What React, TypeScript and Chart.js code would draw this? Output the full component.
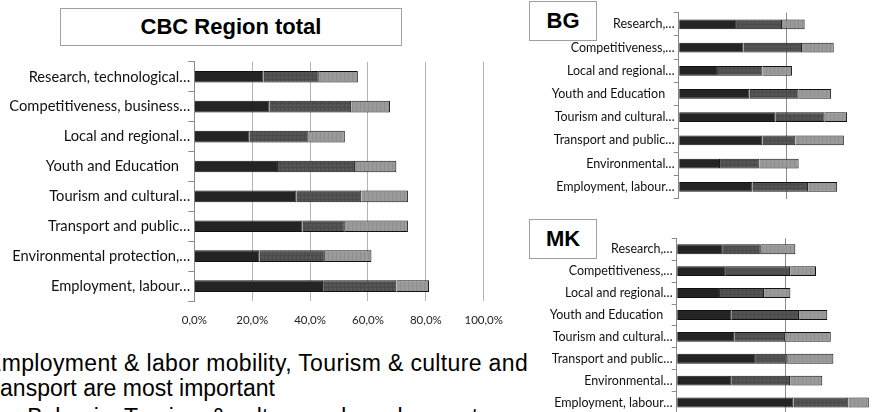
import React, { useEffect, useRef } from "react";
import { Chart, registerables } from "chart.js";

Chart.register(...registerables);

const totalCategories = [
  "Research, technological…",
  "Competitiveness, business…",
  "Local and regional…",
  "Youth and Education   ",
  "Tourism and cultural…",
  "Transport and public…",
  "Environmental protection,…",
  "Employment, labour…",
];
const smallCategories = [
  "Research,…",
  "Competitiveness,…",
  "Local and regional…",
  "Youth and Education   ",
  "Tourism and cultural…",
  "Transport and public…",
  "Environmental…",
  "Employment, labour…",
];

const totalHigh = [23.9, 26.0, 19.1, 28.9, 35.3, 37.4, 22.5, 44.5];
const totalMid = [19.1, 28.2, 20.4, 26.6, 22.4, 14.6, 22.6, 25.3];
const totalLow = [13.5, 13.4, 12.5, 14.3, 16.1, 21.8, 16.1, 11.3];

const bgHigh = [27.0, 30.1, 18.2, 32.9, 45.0, 38.9, 19.2, 34.3];
const bgMid = [21.0, 27.2, 20.7, 22.8, 22.8, 15.3, 18.3, 25.8];
const bgLow = [10.5, 14.7, 13.7, 15.1, 10.4, 22.5, 18.2, 13.5];

const mkHigh = [21.2, 22.6, 19.9, 25.3, 26.5, 36.4, 25.3, 53.7];
const mkMid = [17.5, 29.6, 20.3, 31.0, 23.4, 14.7, 26.9, 25.3];
const mkLow = [15.9, 11.9, 12.1, 13.0, 21.0, 21.0, 14.8, 9.4];

const totalTicks = [0, 20, 40, 60, 80, 100];
const smallTicks = [0, 50, 100];

function makePattern(base: string, dots: string, kind: "grid" | "vstripe") {
  const c = document.createElement("canvas");
  c.width = 4;
  c.height = 4;
  const g = c.getContext("2d")!;
  g.fillStyle = base;
  g.fillRect(0, 0, 4, 4);
  g.fillStyle = dots;
  if (kind === "grid") {
    g.fillRect(0, 0, 1, 4);
    g.fillRect(0, 0, 4, 1);
  } else {
    g.fillRect(0, 0, 1, 4);
  }
  return g.createPattern(c, "repeat") as CanvasPattern;
}

type Opts = {
  labels: string[];
  series: number[][];
  yWidth: number;
  xHeight: number;
  padTop: number;
  barPct: number;
  labelFont: number;
  tickLen: number;
  tickPad: number;
  showX: boolean;
  gridColor: string;
};

function build(canvas: HTMLCanvasElement, o: Opts) {
  const colors = [
    "#242424",
    makePattern("#555555", "#4a4a4a", "grid"),
    makePattern("#9a9a9a", "#8e8e8e", "vstripe"),
  ];
  return new Chart(canvas, {
    type: "bar",
    data: {
      labels: o.labels,
      datasets: o.series.map((d, i) => ({
        data: d,
        backgroundColor: colors[i] as any,
        borderColor: "#111111",
        borderWidth: 1,
        barPercentage: o.barPct,
        categoryPercentage: 1,
      })),
    },
    options: {
      indexAxis: "y",
      animation: false,
      responsive: false,
      maintainAspectRatio: false,
      layout: { padding: { top: o.padTop, left: 0, right: 0, bottom: 0 } },
      plugins: { legend: { display: false }, tooltip: { enabled: false }, title: { display: false } },
      scales: {
        x: {
          stacked: true,
          min: 0,
          max: 100,
          afterBuildTicks: (s: any) => {
            s.ticks = (o.showX ? totalTicks : smallTicks).map((v) => ({ value: v }));
          },
          ticks: {
            display: o.showX,
            padding: 12,
            color: "#222",
            font: { family: "Lato", size: 11.5 },
            callback: (v: any) => Number(v).toFixed(1).replace(".", ",") + "%",
          },
          grid: { color: o.gridColor, drawTicks: false, lineWidth: 1 },
          border: { display: false },
          afterFit: (s: any) => {
            s.height = o.xHeight;
          },
        },
        y: {
          stacked: true,
          grid: { offset: true, drawOnChartArea: false, tickLength: o.tickLen, color: "#8a8a8a" },
          border: { color: "#8a8a8a" },
          ticks: {
            color: "#111",
            padding: o.tickPad,
            font: { family: "Lato", size: o.labelFont },
          },
          afterFit: (s: any) => {
            s.width = o.yWidth;
          },
        },
      },
    },
  });
}

export default function App() {
  const mainRef = useRef<HTMLCanvasElement>(null);
  const bgRef = useRef<HTMLCanvasElement>(null);
  const mkRef = useRef<HTMLCanvasElement>(null);

  useEffect(() => {
    const charts: Chart[] = [];
    charts.push(
      build(mainRef.current!, {
        labels: totalCategories,
        series: [totalHigh, totalMid, totalLow],
        yWidth: 194.3,
        xHeight: 34,
        padTop: 6,
        barPct: 0.39,
        labelFont: 14.7,
        tickLen: 6,
        tickPad: -2,
        showX: true,
        gridColor: "#b4b4b4",
      })
    );
    charts.push(
      build(bgRef.current!, {
        labels: smallCategories,
        series: [bgHigh, bgMid, bgLow],
        yWidth: 148.7,
        xHeight: 3.3,
        padTop: 12.7,
        barPct: 0.42,
        labelFont: 12.5,
        tickLen: 5,
        tickPad: -1,
        showX: false,
        gridColor: "#8a8a8a",
      })
    );
    charts.push(
      build(mkRef.current!, {
        labels: smallCategories,
        series: [mkHigh, mkMid, mkLow],
        yWidth: 146.7,
        xHeight: 4.1,
        padTop: 8.3,
        barPct: 0.45,
        labelFont: 12.5,
        tickLen: 5,
        tickPad: -1,
        showX: false,
        gridColor: "#8a8a8a",
      })
    );
    return () => charts.forEach((c) => c.destroy());
  }, []);

  const box: React.CSSProperties = {
    position: "absolute",
    border: "1px solid #a0a0a0",
    boxSizing: "border-box",
    background: "#fff",
    display: "flex",
    alignItems: "center",
    justifyContent: "center",
    fontFamily: "'Liberation Sans', Arial, sans-serif",
    fontWeight: "bold",
    fontSize: 22,
    color: "#000",
  };
  const bodyText: React.CSSProperties = {
    position: "absolute",
    left: -14,
    fontFamily: "'Liberation Sans', Arial, sans-serif",
    fontSize: 23,
    lineHeight: "25px",
    color: "#000",
    whiteSpace: "nowrap",
  };

  return (
    <div
      style={{
        position: "fixed",
        left: 0,
        top: 0,
        width: 885,
        height: 412,
        overflow: "hidden",
        background: "#fff",
      }}
    >
      <canvas
        ref={mainRef}
        width={515}
        height={280}
        style={{ position: "absolute", left: 0, top: 55, width: 515, height: 280 }}
      />
      <canvas
        ref={bgRef}
        width={364}
        height={205}
        style={{ position: "absolute", left: 530, top: 0, width: 364, height: 205 }}
      />
      <canvas
        ref={mkRef}
        width={364}
        height={190}
        style={{ position: "absolute", left: 530, top: 230, width: 364, height: 190 }}
      />
      <div style={{ ...box, left: 60, top: 8, width: 342, height: 38 }}>CBC Region total</div>
      <div style={{ ...box, left: 529, top: 1, width: 68, height: 40 }}>BG</div>
      <div style={{ ...box, left: 529, top: 219, width: 68, height: 40 }}>MK</div>
      <div style={{ ...bodyText, top: 351, letterSpacing: 0.35 }}>
        Employment &amp; labor mobility, Tourism &amp; culture and
      </div>
      <div style={{ ...bodyText, top: 376 }}>transport are most important</div>
      <div style={{ ...bodyText, left: 8, top: 405 }}>– Bulgaria: Tourism &amp; culture and employment</div>
    </div>
  );
}
